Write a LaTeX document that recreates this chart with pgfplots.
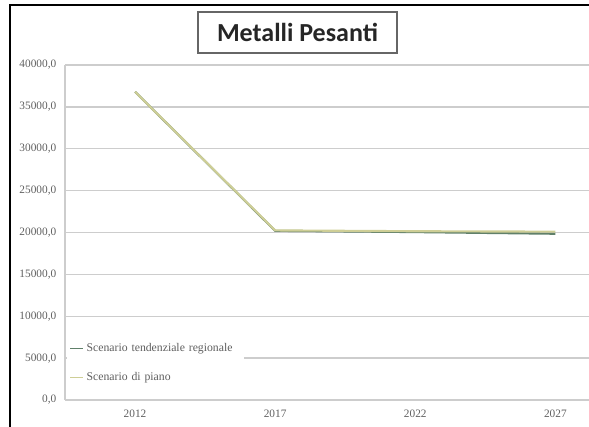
\documentclass[border=0pt]{standalone}
\usepackage{pgfplots}
\pgfplotsset{compat=1.18}
\usepackage{fontspec}
\setmainfont{Liberation Serif}
\newfontfamily\titlefont{Carlito}
\definecolor{tendcol}{RGB}{96,128,106}
\definecolor{pianocol}{RGB}{206,206,150}
\definecolor{gridcol}{RGB}{205,205,205}
\definecolor{txtcol}{RGB}{95,95,95}
\begin{document}
\begin{tikzpicture}
\useasboundingbox (0,0) rectangle (441.75pt,320.25pt);
% outer frame (left and top edges)
\draw[line width=1.6pt,black] (7.5pt,-5pt) -- (7.5pt,316.5pt) -- (450pt,316.5pt);
\begin{axis}[
  at={(48.75pt,20.25pt)}, anchor=south west,
  scale only axis,
  width=393pt, height=251.25pt,
  xmin=-0.5, xmax=3.24,
  ymin=0, ymax=40000,
  xtick={0,1,2,3},
  xticklabels={2012,2017,2022,2027},
  ytick={0,5000,10000,15000,20000,25000,30000,35000,40000},
  scaled y ticks=false,
  yticklabel style={/pgf/number format/fixed,/pgf/number format/fixed zerofill,/pgf/number format/precision=1,/pgf/number format/use comma,/pgf/number format/1000 sep={}},
  /pgf/number format/assume math mode=true,
  tick label style={font=\fontsize{8.5}{10}\selectfont, text=txtcol},
  ymajorgrids,
  grid style={gridcol, line width=1.1pt},
  axis x line*=bottom, axis y line*=left,
  axis line style={gridcol, line width=1.2pt},
  x axis line style={-}, y axis line style={-},
  major tick length=0pt,
  xticklabel style={yshift=-4pt},
  yticklabel style={xshift=-3pt},
  legend style={at={(0.003,0.194)}, anchor=north west, draw=none, fill=white,
    font=\fontsize{8.8}{10}\selectfont, text=txtcol,
    row sep=10pt, inner xsep=2pt, inner ysep=4pt, text width=114pt},
  legend cell align=left,
  legend image code/.code={\draw[#1,line width=0.8pt] (0pt,0pt) -- (10pt,0pt);},
]
\addplot[tendcol, line width=1.6pt, mark=none] coordinates {(0,36800) (1,20200) (2,20050) (3,19850)};
\addlegendentry{Scenario tendenziale regionale}
\addplot[pianocol, line width=1.6pt, mark=none] coordinates {(0,36800) (1,20250) (2,20150) (3,20100)};
\addlegendentry{Scenario di piano}
\end{axis}
% title box
\draw[line width=1.2pt, draw=gray!80!black, fill=white] (148.5pt,280.5pt) rectangle (297.75pt,311.25pt);
\node[font=\titlefont\bfseries\fontsize{19.5}{22}\selectfont, text=black!85] at (223.1pt,295.9pt) {Metalli Pesanti};
\end{tikzpicture}
\end{document}
